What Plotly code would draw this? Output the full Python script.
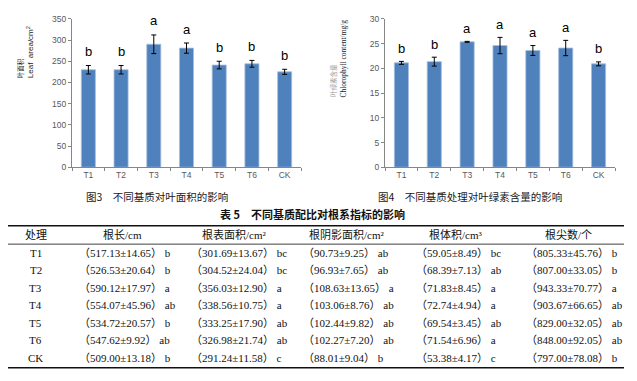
import plotly.graph_objects as go

# ---------------- data ----------------
categories = ["T1", "T2", "T3", "T4", "T5", "T6", "CK"]

leaf_area = [230, 230, 290, 281, 241, 244, 225]
leaf_area_err = [10, 10, 22, 12, 9, 8, 6]
leaf_area_sig = ["b", "b", "a", "a", "b", "b", "b"]

chlorophyll = [21.1, 21.35, 25.35, 24.6, 23.6, 24.1, 20.9]
chlorophyll_err = [0.3, 0.9, 0.1, 1.65, 1.0, 1.55, 0.4]
chlorophyll_sig = ["b", "b", "a", "a", "a", "a", "b"]

table_headers = ["处理", "根长/cm", "根表面积/cm²", "根阴影面积/cm²", "根体积/cm³", "根尖数/个"]

root_length_mean = [517.13, 526.53, 590.12, 554.07, 534.72, 547.62, 509.00]
root_length_sd = [14.65, 20.64, 17.97, 45.96, 20.57, 9.92, 13.18]
root_length_sig = ["b", "b", "a", "ab", "b", "ab", "b"]

root_surface_mean = [301.69, 304.52, 356.03, 338.56, 333.25, 326.98, 291.24]
root_surface_sd = [13.67, 24.04, 12.90, 10.75, 17.90, 21.74, 11.58]
root_surface_sig = ["bc", "bc", "a", "a", "ab", "ab", "c"]

root_shadow_mean = [90.73, 96.93, 108.63, 103.06, 102.44, 102.27, 88.01]
root_shadow_sd = [9.25, 7.65, 13.65, 8.76, 9.82, 7.20, 9.04]
root_shadow_sig = ["ab", "ab", "a", "ab", "ab", "ab", "b"]

root_volume_mean = [59.05, 68.39, 71.83, 72.74, 69.54, 71.54, 53.38]
root_volume_sd = [8.49, 7.13, 8.45, 4.94, 3.45, 6.96, 4.17]
root_volume_sig = ["bc", "ab", "a", "a", "ab", "a", "c"]

root_tips_mean = [805.33, 807.00, 943.33, 903.67, 829.00, 848.00, 797.00]
root_tips_sd = [45.76, 33.05, 70.77, 66.65, 32.05, 92.05, 78.08]
root_tips_sig = ["b", "b", "a", "ab", "ab", "ab", "b"]

caption_fig3 = "图3　不同基质对叶面积的影响"
caption_fig4 = "图4　不同基质处理对叶绿素含量的影响"
caption_table = "表 5　不同基质配比对根系指标的影响"

# ---------------- layout helpers ----------------
# the page body has an 8px margin, so the figure is offset by 8px
OFF = 8
W, H = 637 - OFF, 381 - OFF


def px(x):
    return (x - OFF) / W


def py(y):
    return 1 - (y - OFF) / H


BAR = "#4F81BD"
TICK_FONT = dict(family="Liberation Sans, Arial", size=8.5, color="#595959")
AXIS_LINE = "#868686"

fig = go.Figure()

fig.add_trace(go.Bar(
    x=categories, y=leaf_area,
    error_y=dict(type="data", array=leaf_area_err, color="black", thickness=1, width=2.5),
    marker=dict(color=BAR, line=dict(color="#A7BFDE", width=0.8)),
    xaxis="x", yaxis="y", showlegend=False,
))
fig.add_trace(go.Bar(
    x=categories, y=chlorophyll,
    error_y=dict(type="data", array=chlorophyll_err, color="black", thickness=1, width=2.5),
    marker=dict(color=BAR, line=dict(color="#A7BFDE", width=0.8)),
    xaxis="x2", yaxis="y2", showlegend=False,
))

ydom = [py(166.5), py(14)]
axis_common = dict(showgrid=False, zeroline=False, showline=True, linecolor=AXIS_LINE,
                   linewidth=1, ticks="outside", tickcolor=AXIS_LINE, ticklen=3,
                   tickfont=TICK_FONT)

fig.update_layout(
    width=W, height=H, autosize=False,
    margin=dict(l=0, r=0, t=0, b=0),
    paper_bgcolor="white", plot_bgcolor="white",
    bargap=0.57,
    xaxis=dict(domain=[px(72), px(301)], anchor="y", tickson="boundaries", **axis_common),
    yaxis=dict(domain=ydom, anchor="x", range=[0, 350], dtick=50, **axis_common),
    xaxis2=dict(domain=[px(385), px(615)], anchor="y2", tickson="boundaries", **axis_common),
    yaxis2=dict(domain=ydom, anchor="x2", range=[0, 30], dtick=5, **axis_common),
)

ann = []
letter_font = dict(family="Liberation Sans, Arial", size=13, color="black")
for c, v, e, s in zip(categories, leaf_area, leaf_area_err, leaf_area_sig):
    ann.append(dict(x=c, y=v + e, xref="x", yref="y", text=s, showarrow=False,
                    yanchor="middle", yshift=14, font=letter_font))
for c, v, e, s in zip(categories, chlorophyll, chlorophyll_err, chlorophyll_sig):
    ann.append(dict(x=c, y=v + e, xref="x2", yref="y2", text=s, showarrow=False,
                    yanchor="middle", yshift=13, font=letter_font))

# y axis titles
ann.append(dict(x=px(20), y=py(77), xref="paper", yref="paper", text="叶面积",
                textangle=-90, showarrow=False, xanchor="center", yanchor="bottom",
                font=dict(family="Noto Sans CJK SC", size=6.5, color="#222")))
ann.append(dict(x=px(30), y=py(77), xref="paper", yref="paper", text="Leaf  area/cm<sup>2</sup>",
                textangle=-90, showarrow=False, xanchor="center", yanchor="bottom",
                font=dict(family="Liberation Sans, Arial", size=8, color="#222")))
ann.append(dict(x=px(333), y=py(97), xref="paper", yref="paper", text="叶绿素含量",
                textangle=-90, showarrow=False, xanchor="center", yanchor="bottom",
                font=dict(family="Noto Sans CJK SC", size=6.5, color="#9a9a9a")))
ann.append(dict(x=px(344), y=py(97), xref="paper", yref="paper", text="Chlorophyll content/mg/g",
                textangle=-90, showarrow=False, xanchor="center", yanchor="bottom",
                font=dict(family="Liberation Serif, Times New Roman", size=7.5, color="#222")))

# captions
cap_font = dict(family="Noto Sans CJK SC", size=10.5, color="#1a1a1a")
ann.append(dict(x=px(157), y=py(197), xref="paper", yref="paper", text=caption_fig3,
                showarrow=False, xanchor="center", yanchor="middle", font=cap_font))
ann.append(dict(x=px(470), y=py(197), xref="paper", yref="paper", text=caption_fig4,
                showarrow=False, xanchor="center", yanchor="middle", font=cap_font))
ann.append(dict(x=px(312), y=py(215), xref="paper", yref="paper", text="<b>" + caption_table + "</b>",
                showarrow=False, xanchor="center", yanchor="middle",
                font=dict(family="Noto Sans CJK SC", size=11, color="#111")))

# table
tfont = dict(family="Liberation Serif, Times New Roman, Noto Sans CJK SC", size=11, color="#111")
header_x = [36, 122, 234, 346, 456, 568]
header_y = 236
for hx, htxt in zip(header_x, table_headers):
    ann.append(dict(x=px(hx), y=py(header_y), xref="paper", yref="paper", text=htxt,
                    showarrow=False, xanchor="center", yanchor="middle", font=tfont))

columns = [
    (root_length_mean, root_length_sd, root_length_sig),
    (root_surface_mean, root_surface_sd, root_surface_sig),
    (root_shadow_mean, root_shadow_sd, root_shadow_sig),
    (root_volume_mean, root_volume_sd, root_volume_sig),
    (root_tips_mean, root_tips_sd, root_tips_sig),
]
col_start = [77, 189, 301, 414, 524]
row_y0, row_step = 254.5, 18.0
for i, cat in enumerate(categories):
    ry = row_y0 + i * row_step
    ann.append(dict(x=px(36), y=py(ry), xref="paper", yref="paper", text=cat,
                    showarrow=False, xanchor="center", yanchor="middle", font=tfont))
    for (m, s, g), cx in zip(columns, col_start):
        txt = f"（{m[i]:.2f}±{s[i]:.2f}） {g[i]}"
        ann.append(dict(x=px(cx), y=py(ry), xref="paper", yref="paper", text=txt,
                        showarrow=False, xanchor="left", yanchor="middle", font=tfont))

shapes = []
for yl, lw in [(226.5, 1.5), (245.5, 0.8), (372.5, 1.5)]:
    shapes.append(dict(type="line", xref="paper", yref="paper", x0=px(8), x1=px(624),
                       y0=py(yl), y1=py(yl), line=dict(color="#111", width=lw)))

fig.update_layout(annotations=ann, shapes=shapes)
fig.write_html("out.html")
